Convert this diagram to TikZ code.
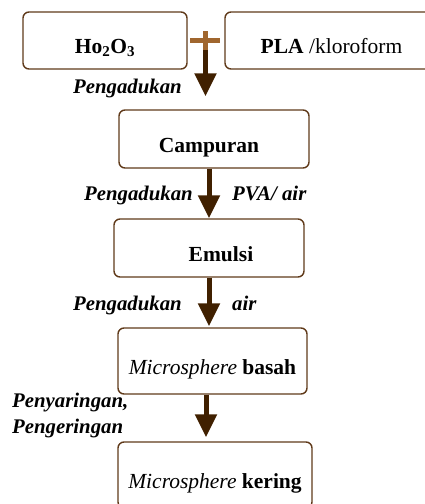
\documentclass[tikz,border=0pt]{standalone}
\usepackage{fontspec}
\setmainfont{Liberation Serif}
\usetikzlibrary{arrows.meta,calc}

\definecolor{arrowbrown}{HTML}{402000}
\definecolor{boxbrown}{HTML}{603A1A}
\definecolor{plusbrown}{HTML}{A0662E}

\tikzset{
	box/.style={draw=boxbrown, line width=1.4pt, rounded corners=6pt,
		minimum width=190pt, minimum height=58pt, inner sep=0pt,
		text height=26pt, text depth=0pt,
		font=\fontsize{21.5}{24}\selectfont\bfseries},
	proc/.style={inner sep=0pt, align=left,
		font=\fontsize{20.8}{26}\selectfont\bfseries\itshape},
	flow/.style={draw=arrowbrown, line width=5pt,
		-{Triangle[width=21pt,length=23pt]}},
	plusbar/.style={draw=plusbrown, line width=5pt}
}

\begin{document}
\begin{tikzpicture}
	\useasboundingbox (0,0) rectangle (425pt,-504pt);
	
	\node[box, minimum width=164pt, minimum height=57pt] (ho) at (105pt,-40.5pt) {Ho\textsubscript{2}O\textsubscript{3}};
	\node[box, minimum width=213pt, minimum height=57pt] (pla) at (331.5pt,-40.5pt) {PLA \textmd{/kloroform}};
	
	\node[box] (campuran) at (214pt,-139pt) {Campuran\hspace*{10pt}};
	\node[box] (emulsi) at (209pt,-248pt) {\hspace*{24pt}Emulsi};
	\node[box, minimum width=189pt, minimum height=66pt] (basah) at (212.5pt,-361pt) {{\mdseries\itshape Microsphere} basah};
	\node[box, minimum width=194pt, minimum height=66pt] (kering) at (215pt,-475pt) {{\mdseries\itshape Microsphere} kering};
	
	\coordinate (plus) at (205.5pt,-40.5pt);
	\draw [plusbar] ([xshift=-15.5pt]plus) -- ([xshift=14.5pt]plus);
	\draw [plusbar] ([yshift=9.5pt]plus) -- ([yshift=-9.5pt]plus);
	
	\draw [flow] ([yshift=-9.5pt]plus) -- ($(campuran.north -| plus)+(0,13pt)$);
	\draw [flow] (campuran.south -| emulsi.north) -- (emulsi.north);
	\draw [flow] (emulsi.south) -- ($(basah.north -| emulsi.south)+(0,1pt)$);
	\draw [flow] ($(basah.south)+(-6.5pt,0)$) -- ($(kering.north -| basah.south)+(-6.5pt,4pt)$);
	
	\node[proc, anchor=base east] (stir1) at (182pt,-93pt) {Pengadukan};
	\node[proc, anchor=base east] (stir2) at (193pt,-200pt) {Pengadukan};
	\node[proc, anchor=base west] (pva) at (232pt,-200pt) {PVA/ air};
	\node[proc, anchor=base east] (stir3) at (182pt,-310pt) {Pengadukan};
	\node[proc, anchor=base west] (water) at (232pt,-310pt) {air};
	\node[proc, anchor=base west] (filter) at (12pt,-433pt) {Penyaringan,\\Pengeringan};
\end{tikzpicture}
\end{document}
